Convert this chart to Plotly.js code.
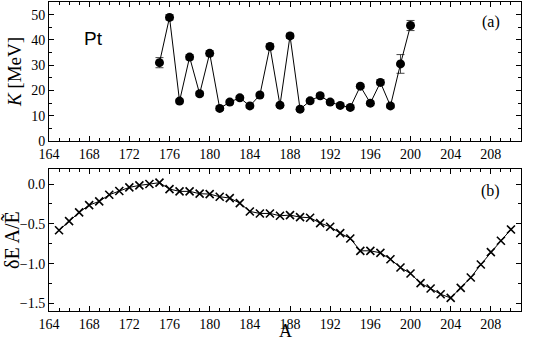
<!DOCTYPE html>
<html>
<head>
<meta charset="utf-8">
<script src="https://cdn.plot.ly/plotly-3.0.1.min.js"></script>
<style>body{margin:0;padding:0;background:#fff;}</style>
</head>
<body>
<div id="chart" style="width:545px;height:343px;"></div>
<script>
// panel (a): K for Pt isotopes
const massA = [175, 176, 177, 178, 179, 180, 181, 182, 183, 184, 185, 186, 187,
  188, 189, 190, 191, 192, 193, 194, 195, 196, 197, 198, 199, 200];
const kValues = [31.0, 48.9, 15.8, 33.2, 18.7, 34.7, 12.9, 15.4, 17.1, 13.9, 18.2, 37.4, 14.2,
  41.6, 12.6, 15.9, 17.9, 15.4, 14.1, 13.3, 21.7, 15.0, 23.2, 13.9, 30.5, 45.7];
const kErrors = [2.0, 1.0, 0.8, 1.0, 0.8, 1.0, 0.8, 0.8, 0.8, 0.8, 0.8, 1.0, 0.8,
  1.0, 0.8, 0.8, 0.9, 0.8, 0.8, 0.8, 0.8, 0.8, 1.0, 0.8, 3.7, 2.0];

// panel (b): deltaE A / E~
const massB = [165, 166, 167, 168, 169, 170, 171, 172, 173, 174, 175, 176, 177, 178, 179,
  180, 181, 182, 183, 184, 185, 186, 187, 188, 189, 190, 191, 192, 193, 194, 195, 196,
  197, 198, 199, 200, 201, 202, 203, 204, 205, 206, 207, 208, 209, 210];
const deltaE = [-0.58, -0.465, -0.356, -0.264, -0.218, -0.134, -0.088, -0.042, -0.017, 0.0,
  0.017, -0.063, -0.092, -0.092, -0.121, -0.126, -0.159, -0.176, -0.239, -0.344, -0.369,
  -0.369, -0.398, -0.39, -0.415, -0.423, -0.49, -0.536, -0.616, -0.683, -0.838, -0.838,
  -0.863, -0.943, -1.047, -1.123, -1.244, -1.311, -1.383, -1.429, -1.303, -1.173, -1.01,
  -0.855, -0.712, -0.57];

const serif = 'Times New Roman, Liberation Serif, serif';

const traceK = {
  x: massA, y: kValues,
  error_y: { type: 'data', array: kErrors, color: '#444', thickness: 1, width: 4 },
  mode: 'lines+markers', type: 'scatter',
  line: { color: '#000', width: 1 },
  marker: { color: '#000', size: 9, symbol: 'circle' },
  xaxis: 'x', yaxis: 'y'
};

const traceE = {
  x: massB, y: deltaE,
  mode: 'lines+markers', type: 'scatter',
  line: { color: '#000', width: 1 },
  marker: { symbol: 'x-thin', size: 8, line: { color: '#000', width: 1.6 } },
  xaxis: 'x2', yaxis: 'y2'
};

const axisCommon = {
  showline: true, linecolor: '#000', linewidth: 1, mirror: 'ticks',
  ticks: 'inside', ticklen: 5, tickcolor: '#000', tickwidth: 1,
  showgrid: false, zeroline: false, automargin: false,
  tickfont: { family: serif, size: 14, color: '#000' }
};

const layout = {
  width: 545, height: 343,
  margin: { l: 49, r: 24, t: 2, b: 32 },
  font: { family: serif, color: '#000' },
  paper_bgcolor: '#fff', plot_bgcolor: '#fff',
  showlegend: false,
  xaxis: Object.assign({}, axisCommon, {
    range: [164, 211], dtick: 4, tick0: 164, anchor: 'y',
    minor: { dtick: 1, ticks: 'inside', ticklen: 3, tickcolor: '#000' }
  }),
  yaxis: Object.assign({}, axisCommon, {
    domain: [0.55, 1], range: [0, 55], dtick: 10, anchor: 'x',
    minor: { dtick: 5, ticks: 'inside', ticklen: 3, tickcolor: '#000' },
    title: { text: '<i>K</i> [MeV]', font: { family: serif, size: 19, color: '#000' }, standoff: 4 }
  }),
  xaxis2: Object.assign({}, axisCommon, {
    range: [164, 211], dtick: 4, tick0: 164, anchor: 'y2',
    minor: { dtick: 1, ticks: 'inside', ticklen: 3, tickcolor: '#000' }
  }),
  yaxis2: Object.assign({}, axisCommon, {
    domain: [0, 0.4586], range: [-1.593, 0.185], dtick: 0.5, tickformat: '.1f', anchor: 'x2',
    minor: { dtick: 0.25, ticks: 'inside', ticklen: 3, tickcolor: '#000' },
    title: { text: 'δE A/Ẽ', font: { family: serif, size: 20, color: '#000' }, standoff: 2 }
  }),
  annotations: [
    { text: 'Pt', xref: 'x', yref: 'y', x: 168.4, y: 40.7, showarrow: false,
      font: { family: 'Liberation Sans, Arial, sans-serif', size: 19, color: '#000' } },
    { text: '(a)', xref: 'x', yref: 'y', x: 208, y: 47, showarrow: false,
      font: { family: serif, size: 16, color: '#000' } },
    { text: '(b)', xref: 'x2', yref: 'y2', x: 208, y: -0.088, showarrow: false,
      font: { family: serif, size: 16, color: '#000' } },
    // x axis title as an annotation, so it fits under the tick labels in the tight margin
    { text: 'A', xref: 'paper', yref: 'paper', x: 0.5, y: -0.1036, yanchor: 'bottom',
      showarrow: false, font: { family: serif, size: 18, color: '#000' } }
  ]
};

Plotly.newPlot('chart', [traceK, traceE], layout, { displayModeBar: false, staticPlot: true });
</script>
</body>
</html>
